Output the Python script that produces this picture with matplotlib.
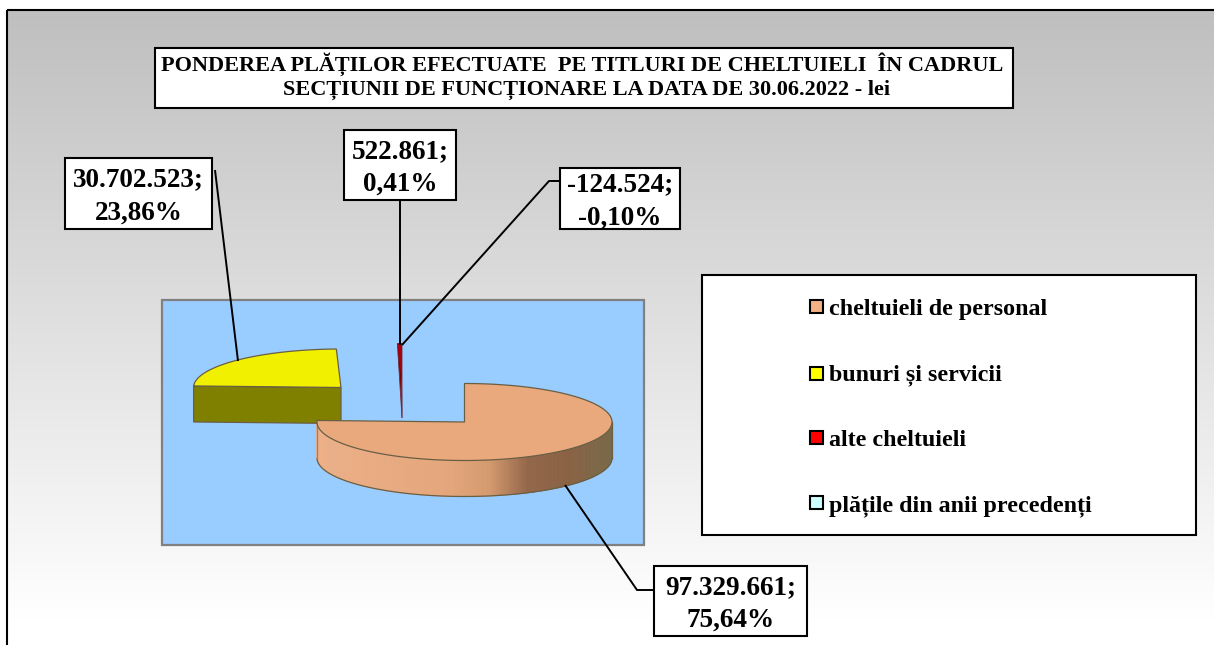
import numpy as np
import matplotlib
matplotlib.use("Agg")
import matplotlib.pyplot as plt
from matplotlib.patches import Rectangle, Polygon
from matplotlib.colors import LinearSegmentedColormap, to_rgb

# ---- data ----
categories = ["cheltuieli de personal", "bunuri și servicii", "alte cheltuieli", "plățile din anii precedenți"]
values = [97329661, 30702523, 522861, -124524]
slice_colors = ["#E9A97D", "#F0F000", "#A80010", "#A80010"]
legend_colors = ["#F4B183", "#FFFF00", "#FF0000", "#CCFFFF"]
side_colors = ["#E9A97D", "#7F7F00", "#800000", "#800000"]
title_lines = ["PONDEREA PLĂȚILOR EFECTUATE  PE TITLURI DE CHELTUIELI  ÎN CADRUL",
               "SECȚIUNII DE FUNCȚIONARE LA DATA DE 30.06.2022 - lei"]

W, H = 1214, 645
plt.rcParams["font.family"] = ["Liberation Serif", "DejaVu Serif"]
plt.rcParams["font.weight"] = "bold"

fig = plt.figure(figsize=(W / 100, H / 100), dpi=100, facecolor="white")
ax = fig.add_axes([0, 0, 1, 1])
ax.axis("off")

# chart area with vertical gradient (runs off the right and bottom of the picture)
grad = LinearSegmentedColormap.from_list("g", ["#BFBFBF", "#FFFFFF"])
ax.imshow(np.linspace(0, 1, 256)[:, None], cmap=grad, aspect="auto",
          extent=(7, W + 10, 620, 10), zorder=0)
ax.set_xlim(0, W)
ax.set_ylim(H, 0)
ax.add_patch(Rectangle((7, 10), W + 20, H + 20, fc="none", ec="black", lw=1.5, zorder=1))

# plot area
ax.add_patch(Rectangle((162, 300), 482, 245, fc="#99CCFF", ec="#808080", lw=1.6, zorder=1))

# ---- 3D pie geometry derived from the values ----
abs_vals = np.abs(values)
total = abs_vals.sum()
sweeps = abs_vals / total * 360
cx, cy, rx, ry, depth = 464.5, 422, 147.5, 38.5, 36
offsets = [(0, 0), (-123.5, -34.5), (-62.5, -40), (-62.5, -40)]
EDGE = "#6A5F45"


def shade_peach(t):
    """t: position across the pie front (0 left, 1 right)."""
    stops = [(0, "#EDB088"), (0.45, "#E5A67B"), (0.58, "#D59A6E"), (0.71, "#94674A"),
             (0.85, "#8A6244"), (1.0, "#786A48")]
    xs = [s[0] for s in stops]
    cs = np.array([to_rgb(s[1]) for s in stops])
    return tuple(np.interp(t, xs, cs[:, i]) for i in range(3))


start = 90.0
zo = 3
for i, sw in enumerate(sweeps):
    a0 = start - sw  # slices run clockwise
    a1 = start
    start = a0
    dx, dy = offsets[i]
    x0, y0 = cx + dx, cy + dy
    th = np.radians(np.linspace(a0, a1, 240))
    ex, ey = x0 + rx * np.cos(th), y0 - ry * np.sin(th)
    if i == 0:
        idx = np.where(np.sin(th) <= 0)[0]
        for j in idx[:-1]:
            c = shade_peach((ex[j] - (x0 - rx)) / (2 * rx))
            ax.add_patch(Polygon([(ex[j], ey[j]), (ex[j + 1], ey[j + 1]),
                                  (ex[j + 1], ey[j + 1] + depth), (ex[j], ey[j] + depth)],
                                 fc=c, ec=c, lw=0.6, zorder=zo))
        ax.plot(ex[idx], ey[idx] + depth, color=EDGE, lw=0.9, zorder=zo + 1)
        ax.plot([x0 + rx, x0 + rx], [y0, y0 + depth], color=EDGE, lw=0.9, zorder=zo + 1)
        ax.plot([x0 - rx, x0 - rx], [y0, y0 + depth], color="#A08060", lw=0.9, zorder=zo + 1)
    elif i == 1:
        # cut face turned toward the viewer
        ax.add_patch(Polygon([(ex[-1], ey[-1]), (x0, y0), (x0, y0 + depth), (ex[-1], ey[-1] + depth)],
                             fc=side_colors[i], ec=EDGE, lw=0.9, zorder=zo))
    else:
        # thin slices: only the narrow cut shows
        ax.add_patch(Polygon([(ex[0], ey[0]), (x0, y0 + depth), (ex[-1], ey[-1])],
                             fc=side_colors[i], ec="#703040", lw=0.6, zorder=zo))
    # top surface
    top = np.column_stack([np.r_[x0, ex], np.r_[y0, ey]])
    ax.add_patch(Polygon(top, closed=True, fc=slice_colors[i],
                         ec=EDGE if i < 2 else "none", lw=0.9, zorder=zo + 2))


def fmt_label(v):
    pct = v / total * 100
    return f"{v:,}".replace(",", ".") + ";\n" + f"{pct:.2f}".replace(".", ",") + "%"


# data labels, in value order
label_boxes = [(654, 566, 153, 70), (65, 158, 147, 71), (344, 130, 112, 70), (560, 168, 120, 61)]
leaders = [[(565, 485), (637, 590), (654, 590)],
           [(215, 170), (238, 361)],
           [(400, 200), (400, 345)],
           [(560, 181), (549, 181), (402, 345)]]
for v, b, l in zip(values, label_boxes, leaders):
    xs, ys = zip(*l)
    ax.plot(xs, ys, color="black", lw=1.4, zorder=6, solid_capstyle="butt")
    ax.add_patch(Rectangle(b[:2], b[2], b[3], fc="white", ec="black", lw=1.5, zorder=7))
    ax.text(b[0] + b[2] / 2, b[1] + b[3] / 2 + 3, fmt_label(v), ha="center", va="center",
            fontsize=19.5, linespacing=1.42, zorder=8, color="black")

# title
ax.add_patch(Rectangle((155, 48), 858, 60, fc="white", ec="black", lw=1.5, zorder=7))
ax.text(582, 64, title_lines[0], ha="center", va="center", fontsize=16, zorder=8)
ax.text(587, 90, title_lines[1], ha="center", va="center", fontsize=16, zorder=8)

# legend
ax.add_patch(Rectangle((702, 275), 494, 260, fc="white", ec="black", lw=1.5, zorder=7))
for c, col, ym, yt in zip(categories, legend_colors, [300, 367, 431, 496], [309, 375, 440, 506]):
    ax.add_patch(Rectangle((810, ym), 13, 13, fc=col, ec="black", lw=1.5, zorder=8))
    ax.text(829, yt, c, ha="left", va="center", fontsize=17.3, zorder=8)

fig.savefig("out.png", dpi=100, facecolor="white")
